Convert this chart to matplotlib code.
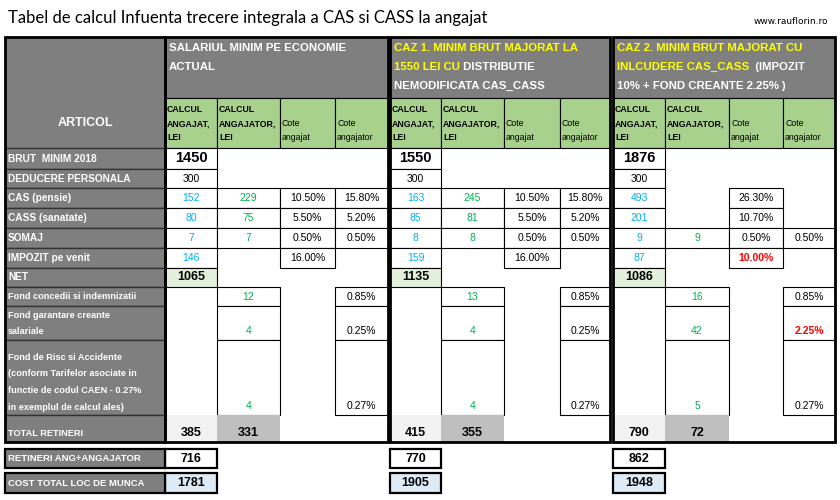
import matplotlib
matplotlib.use("Agg")
import matplotlib.pyplot as plt
from matplotlib.patches import Rectangle

title = "Tabel de calcul Infuenta trecere integrala a CAS si CASS la angajat"
site = "www.rauflorin.ro"
row_labels = ["BRUT  MINIM 2018", "DEDUCERE PERSONALA", "CAS (pensie)", "CASS (sanatate)",
              "SOMAJ", "IMPOZIT pe venit", "NET", "Fond concedii si indemnizatii",
              "Fond garantare creante\nsalariale",
              "Fond de Risc si Accidente\n(conform Tarifelor asociate in\nfunctie de codul CAEN - 0.27%\nin exemplul de calcul ales)",
              "TOTAL RETINERI"]
sub_headers = ["CALCUL\nANGAJAT,\nLEI", "CALCUL\nANGAJATOR,\nLEI", "Cote\nangajat", "Cote\nangajator"]
block_headers = [
    [[("SALARIUL MINIM PE ECONOMIE", "w")], [("ACTUAL", "w")]],
    [[("CAZ 1. MINIM BRUT MAJORAT LA", "y")], [("1550 LEI CU", "y"), (" DISTRIBUTIE", "w")],
     [("NEMODIFICATA CAS_CASS", "w")]],
    [[("CAZ 2. MINIM BRUT MAJORAT CU", "y")], [("INLCUDERE CAS_CASS", "y"), ("  (IMPOZIT", "w")],
     [("10% + FOND CREANTE 2.25% )", "w")]],
]
N = None
angajat = [[1450, 300, 152, 80, 7, 146, 1065, N, N, N, 385],
           [1550, 300, 163, 85, 8, 159, 1135, N, N, N, 415],
           [1876, 300, 493, 201, 9, 87, 1086, N, N, N, 790]]
angajator = [[N, N, 229, 75, 7, N, N, 12, 4, 4, 331],
             [N, N, 245, 81, 8, N, N, 13, 4, 4, 355],
             [N, N, N, N, 9, N, N, 16, 42, 5, 72]]
cote_ang = [[N, N, "10.50%", "5.50%", "0.50%", "16.00%", N, N, N, N, N],
            [N, N, "10.50%", "5.50%", "0.50%", "16.00%", N, N, N, N, N],
            [N, N, "26.30%", "10.70%", "0.50%", "10.00%", N, N, N, N, N]]
cote_angr = [[N, N, "15.80%", "5.20%", "0.50%", N, N, "0.85%", "0.25%", "0.27%", N],
             [N, N, "15.80%", "5.20%", "0.50%", N, N, "0.85%", "0.25%", "0.27%", N],
             [N, N, N, N, "0.50%", N, N, "0.85%", "2.25%", "0.27%", N]]
red_cells = {(2, 2, 5), (2, 3, 8)}
retineri_total = [716, 770, 862]
cost_total = [1781, 1905, 1948]

W, H = 840, 500
fig = plt.figure(figsize=(W/100, H/100), dpi=100)
ax = fig.add_axes([0, 0, 1, 1])
ax.set_xlim(0, W); ax.set_ylim(H, 0); ax.axis("off")
FONT = "Liberation Sans"
NARROW = "Liberation Sans"
GREY = "#7f7f7f"; GREEN = "#a9d18e"; BLUE = "#00b0f0"; DGREEN = "#00b050"
xs_blocks = [[165, 217, 280, 335, 388], [390, 441, 504, 560, 610], [613, 665, 729, 783, 835]]
ys = [148, 169, 188, 208, 228, 248, 268, 287, 306, 340, 415, 442]
top, sub_top = 37, 98

def box(x0, x1, y0, y1, fc="white", ec="black", lw=0.8, z=1):
    ax.add_patch(Rectangle((x0, y0), x1-x0, y1-y0, facecolor=fc, edgecolor=ec, lw=lw, zorder=z))

ax.text(8, 18, title, fontsize=12, family="Lato", va="center")
ax.text(828, 22, site, fontsize=6.5, family="DejaVu Sans", ha="right", va="center")

box(5, 165, top, sub_top + 50, GREY, "#404040", 0.8)
ax.text(85, 123, "ARTICOL", color="white", fontsize=9, weight="bold", family=FONT, ha="center", va="center")
for i, lab in enumerate(row_labels):
    y0, y1 = ys[i], ys[i+1]
    box(5, 165, y0, y1, GREY, "#333333", 1.0)
    if 7 <= i <= 10:
        lines = lab.split("\n")
        n = len(lines)
        for k, ln in enumerate(lines):
            yy = y1 - 8 - (n-1-k)*16.5 if i != 7 else (y0+y1)/2
            ax.text(8, yy, ln, color="white", fontsize=6.6, weight="bold", family=NARROW, va="center")
    else:
        ax.text(8, (y0+y1)/2, lab, color="white", fontsize=7.3, weight="bold", family=FONT, va="center")
box(5, 165, top, 442, "none", "black", 2, 5)

renderer = fig.canvas.get_renderer()
for b in range(3):
    xs = xs_blocks[b]
    box(xs[0], xs[4], top, sub_top, GREY, "black", 0.8)
    for li, segs in enumerate(block_headers[b]):
        x = xs[0] + 4
        yy = 48 + li*19
        for s, c in segs:
            t = ax.text(x, yy, s, color="#ffff00" if c == "y" else "white", fontsize=8.2,
                        weight="bold", family=FONT, va="center")
            x += t.get_window_extent(renderer).width
    for c in range(4):
        box(xs[c], xs[c+1], sub_top, ys[0], GREEN, "black", 0.8)
        lines = sub_headers[c].split("\n")
        for k, ln in enumerate(lines):
            yy = 138 - (len(lines)-1-k)*14.5
            ax.text(xs[c] + 2, yy, ln, fontsize=6.3, weight="bold" if c < 2 else "normal",
                    family=FONT, va="center")
    cols = [angajat[b], angajator[b], cote_ang[b], cote_angr[b]]
    for c in range(4):
        for i, v in enumerate(cols[c]):
            if v is None:
                continue
            y0, y1 = ys[i], ys[i+1]
            x0, x1 = xs[c], xs[c+1]
            fc = "white"; color = "black"; size = 7.5; wt = "normal"
            if c == 0 and 2 <= i <= 5: color = BLUE
            if c == 1 and 2 <= i <= 9: color = DGREEN
            if i == 0: size = 10.5; wt = "bold"
            if i == 6: fc = "#e2efda"; size = 9; wt = "bold"
            if i == 10:
                fc = "#f2f2f2" if c == 0 else "#bfbfbf"; size = 9; wt = "bold"
            if (b, c, i) in red_cells: color = "red"; wt = "bold"
            ec = "none" if i == 10 else "black"
            box(x0, x1, y0, y1, fc, ec, 0.8)
            yy = (y0+y1)/2 if i < 8 else y1 - 9
            ax.text((x0+x1)/2, yy, str(v), color=color, fontsize=size, weight=wt,
                    family=FONT, ha="center", va="center")
    box(xs[0], xs[4], top, 442, "none", "black", 2, 5)
    for val, y0, y1, fc in [(retineri_total[b], 449, 468, "white"), (cost_total[b], 473, 493, "#ddebf7")]:
        box(xs[0], xs[1], y0, y1, fc, "black", 1.6)
        ax.text((xs[0]+xs[1])/2, (y0+y1)/2, str(val), fontsize=9, weight="bold",
                family=FONT, ha="center", va="center")

for lab, y0, y1 in [("RETINERI ANG+ANGAJATOR", 449, 468), ("COST TOTAL LOC DE MUNCA", 473, 493)]:
    box(5, 165, y0, y1, GREY, "black", 1.6)
    ax.text(8, (y0+y1)/2, lab, color="white", fontsize=6.8, weight="bold", family=NARROW, va="center")

fig.savefig("out.png", dpi=100)
